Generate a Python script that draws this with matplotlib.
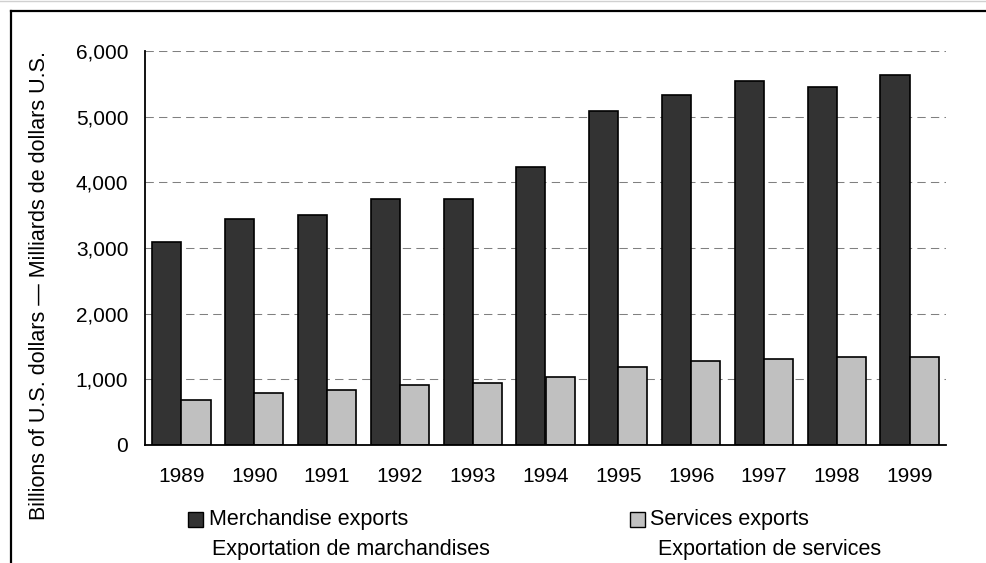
import numpy as np
import matplotlib
matplotlib.use("Agg")
import matplotlib.pyplot as plt
from matplotlib.patches import Rectangle
from matplotlib.lines import Line2D
from matplotlib.ticker import FuncFormatter

# ── Data ──────────────────────────────────────────────────────────────────────

years       = ["1989", "1990", "1991", "1992", "1993", "1994",
               "1995", "1996", "1997", "1998", "1999"]
merchandise = [3090, 3445, 3505, 3750, 3750, 4230, 5090, 5330, 5545, 5450, 5640]
services    = [680, 796, 832, 918, 948, 1040, 1192, 1283, 1314, 1344, 1340]

DARK  = "#333333"
LIGHT = "#c0c0c0"

plt.rcParams["font.family"] = ["Liberation Sans", "DejaVu Sans"]
FS     = 15     # tick labels
FS_LEG = 15.5   # legend text

# ── Figure ────────────────────────────────────────────────────────────────────

W, H = 987, 563
fig = plt.figure(figsize=(W / 100, H / 100), dpi=100)
ax = fig.add_axes([145 / W, 1 - 445 / H, (946 - 145) / W, (445 - 51) / H])

x = np.arange(len(years))
bw = 0.4
ax.bar(x - bw / 2, merchandise, bw, color=DARK, edgecolor="black", linewidth=1.2, zorder=3)
ax.bar(x + bw / 2, services, bw, color=LIGHT, edgecolor="black", linewidth=1.2, zorder=3)

ax.set_xlim(-0.5, len(years) - 0.5)
ax.set_ylim(0, 6000)
ax.set_yticks(range(0, 6001, 1000))
ax.yaxis.set_major_formatter(FuncFormatter(lambda v, p: f"{int(v):,}"))
ax.set_xticks(x)
ax.set_xticklabels(years)
ax.tick_params(axis="both", length=0, labelsize=FS)
ax.tick_params(axis="y", pad=12)
ax.tick_params(axis="x", pad=16)

ax.yaxis.grid(True, color="#808080", linewidth=0.75, linestyle=(0, (8, 5)), zorder=0)
ax.set_axisbelow(True)
for s in ["top", "right"]:
    ax.spines[s].set_visible(False)
for s in ["left", "bottom"]:
    ax.spines[s].set_linewidth(1.3)
    ax.spines[s].set_zorder(4)

# y label (baseline on the right side of the rotated text)
fig.text(45 / W, 1 - 285 / H, "Billions of U.S. dollars \u2014 Milliards de dollars U.S.",
         rotation=90, rotation_mode="anchor", ha="center", va="baseline", fontsize=15.5)

# ── Legend (hand placed) ─────────────────────────────────────────────────────

def legend_entry(x_sq, x_txt, x_fr, color, en, fr):
    fig.add_artist(Rectangle((x_sq / W, 1 - 527 / H), 15 / W, 15 / H,
                             facecolor=color, edgecolor="black", linewidth=1.0,
                             transform=fig.transFigure))
    fig.text(x_txt / W, 1 - 525 / H, en, ha="left", va="baseline", fontsize=FS_LEG)
    fig.text(x_fr / W, 1 - 555 / H, fr, ha="left", va="baseline", fontsize=FS_LEG)

legend_entry(188, 209, 212, DARK, "Merchandise exports", "Exportation de marchandises")
legend_entry(630, 650, 658, LIGHT, "Services exports", "Exportation de services")

# ── Outer frame (left + top) ─────────────────────────────────────────────────

fig.add_artist(Line2D([0, 1], [1 - 1 / H, 1 - 1 / H], color="#d0d0d0", linewidth=1.0,
                      transform=fig.transFigure))
fig.add_artist(Line2D([11 / W, 11 / W], [0, 1 - 11 / H], color="black", linewidth=1.6,
                      transform=fig.transFigure))
fig.add_artist(Line2D([11 / W, 1], [1 - 11 / H, 1 - 11 / H], color="black", linewidth=1.6,
                      transform=fig.transFigure))

fig.savefig("out.png", dpi=100)
